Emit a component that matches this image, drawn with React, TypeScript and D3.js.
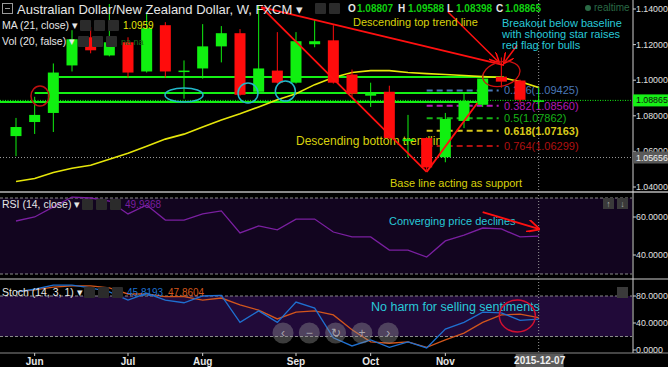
import React from "react";
import * as d3 from "d3";

// weekly AUD/NZD candles
const weeks = ["2015-05-25","2015-06-01","2015-06-08","2015-06-15","2015-06-22","2015-06-29","2015-07-06","2015-07-13","2015-07-20","2015-07-27","2015-08-03","2015-08-10","2015-08-17","2015-08-24","2015-08-31","2015-09-07","2015-09-14","2015-09-21","2015-09-28","2015-10-05","2015-10-12","2015-10-19","2015-10-26","2015-11-02","2015-11-09","2015-11-16","2015-11-23","2015-11-30","2015-12-07"];
const opens = [1.0686,1.0765,1.0816,1.1083,1.1241,1.1139,1.1213,1.1049,1.1309,1.1049,1.1066,1.1190,1.1264,1.0935,1.1054,1.0986,1.1202,1.1224,1.1032,1.0913,1.0935,1.0658,1.0675,1.0567,1.0771,1.0862,1.1020,1.0998,1.08807];
const highs = [1.0788,1.0907,1.1094,1.1281,1.1298,1.1428,1.1241,1.1372,1.1326,1.1111,1.1315,1.1304,1.1287,1.1417,1.1270,1.1270,1.1343,1.1309,1.1060,1.0986,1.0969,1.0805,1.0680,1.0816,1.0924,1.1032,1.1128,1.1003,1.09588];
const lows = [1.0573,1.0698,1.0709,1.1049,1.1151,1.1134,1.1015,1.1043,1.1015,1.0896,1.1009,1.1100,1.0913,1.0930,1.0981,1.0981,1.1185,1.0981,1.0907,1.0850,1.0669,1.0567,1.0494,1.0539,1.0731,1.0850,1.0958,1.0873,1.08398];
const closes = [1.0737,1.0805,1.1043,1.1230,1.1168,1.1213,1.1043,1.1292,1.1049,1.1054,1.1190,1.1264,1.0918,1.1066,1.0986,1.1219,1.1219,1.0986,1.0924,1.0930,1.0675,1.0669,1.0510,1.0782,1.0884,1.1009,1.0992,1.0890,1.08865];

const ma21 = [1.0431,1.0448,1.0482,1.0505,1.0522,1.0556,1.0590,1.0629,1.0669,1.0697,1.0737,1.0777,1.0811,1.0850,1.0890,1.0924,1.0975,1.1015,1.1043,1.1054,1.1054,1.1043,1.1037,1.1032,1.1026,1.1020,1.1015,1.0992,1.0959];
const rsi = [57.9,60.0,65.3,70.5,70.0,68.4,61.6,66.3,58.4,58.4,61.6,63.2,51.6,55.3,53.2,58.9,58.9,52.1,49.5,49.5,42.6,42.6,38.9,47.4,50.5,54.2,53.7,49.5,49.9368];
const stochK = [86,90,96,96,92,86,74,84,74,70,80,81,41,58,41,71,62,18,6,15,4,12,3,31,41,56,55,44,45.8193];
const stochD = [86,89,93,95,95,92,83,83,79,79,74,77,67,59,46,56,58,52,30,12,10,12,4,15,25,41,52,53,47.8604];

const fibRatios = ["0.236", "0.382", "0.5", "0.618", "0.764"];
const fibPrices = [1.09425, 1.0856, 1.07862, 1.07163, 1.06299];
const fibColors = ["#4a78b8", "#b41ab4", "#17b417", "#d8c81a", "#b01010"];

const monthTicks = ["2015-06-01", "2015-07-06", "2015-08-03", "2015-09-07", "2015-10-05", "2015-11-02"];
const rsiTicks = [40, 60];
const stochTicks = [0, 40, 80];

// hand-drawn levels (price, from, to)
const greenLevels = [
  { price: 1.1018, from: "2015-06-10", to: "2015-11-24" },
  { price: 1.0928, from: "2015-06-01", to: "2015-11-14" },
  { price: 1.0878, from: "2015-05-19", to: "2015-11-14" },
];
const redLines = [
  [["2015-08-25", 1.1411], ["2015-11-24", 1.1085]],
  [["2015-08-25", 1.1411], ["2015-10-26", 1.0485]],
  [["2015-10-26", 1.0485], ["2015-11-14", 1.0872]],
];
const redArrows = [
  [["2015-11-03", 1.1383], ["2015-11-22", 1.1102]],
  [["2015-11-29", 1.1198], ["2015-11-24", 1.1097]],
];
const cyanRings = [
  { date: "2015-07-27", price: 1.0917, rx: 19, ry: 7 },
  { date: "2015-08-20", price: 1.0928, rx: 10, ry: 10 },
  { date: "2015-09-03", price: 1.0939, rx: 10, ry: 10 },
];

const FONT = "'Liberation Sans', Arial, sans-serif";
const RIGHT = 632;

export default function App() {
  const parse = d3.utcParse("%Y-%m-%d");
  const dt = (s: string) => parse(s) as Date;
  const dates = weeks.map(dt);
  const x = d3.scaleUtc().domain([dt("2015-05-19"), dt("2016-01-11")]).range([0, RIGHT]);
  const y = d3.scaleLinear().domain([1.04, 1.14]).range([187, 9]);
  const yRsi = d3.scaleLinear().domain([40, 60]).range([255, 217]);
  const ySto = d3.scaleLinear().domain([0, 80]).range([350, 296]);
  const fmtP = d3.format(".5f");
  const fmtI = d3.format(".4f");

  const seriesLine = (sy: (v: number) => number) =>
    d3.line<number>().x((_, i) => x(dates[i])).y((d) => sy(d));

  const bw = 11;
  const cx = x(dt("2015-12-07"));
  const cy = y(1.05656);

  const icons = (x0: number, y0: number) =>
    [0, 14, 28].map((o, i) => (
      <rect key={i} x={x0 + o} y={y0} width={11} height={11} rx={1} fill="#2b2b2b" />
    ));

  return (
    <svg width={668} height={367} style={{ position: "absolute", left: 0, top: 0, background: "#000" }} fontFamily={FONT}>
      <defs>
        <clipPath id="main"><rect x={0} y={0} width={RIGHT} height={192} /></clipPath>
        <marker id="ah" viewBox="0 0 10 10" refX={9} refY={5} markerWidth={7} markerHeight={7} orient="auto">
          <path d="M0,0 L10,5 L0,10" fill="none" stroke="#ff1010" strokeWidth={1.5} />
        </marker>
      </defs>
      <rect width={668} height={367} fill="#000" />

      {/* RSI / Stoch bands */}
      <rect x={0} y={yRsi(70)} width={RIGHT} height={yRsi(30) - yRsi(70)} fill="#12051f" />
      <rect x={0} y={ySto(80)} width={RIGHT} height={ySto(20) - ySto(80)} fill="#210a39" />
      {[yRsi(70), yRsi(30), ySto(80), ySto(20)].map((v, i) => (
        <line key={i} x1={0} x2={RIGHT} y1={v} y2={v} stroke="#8a8a8a" strokeDasharray="3,2" />
      ))}

      {/* pane separators and axis */}
      <line x1={0} x2={668} y1={192} y2={192} stroke="#b8b8b8" strokeWidth={1.5} />
      <line x1={0} x2={668} y1={279} y2={279} stroke="#8a8a8a" strokeWidth={1.5} />
      <line x1={0} x2={668} y1={353} y2={353} stroke="#8a8a8a" strokeWidth={1} />
      <line x1={633} x2={633} y1={0} y2={353} stroke="#cfcfcf" />

      {/* crosshair */}
      <line x1={cx} x2={cx} y1={0} y2={353} stroke="#9a9a9a" strokeDasharray="1,2" />
      <line x1={0} x2={RIGHT} y1={cy} y2={cy} stroke="#9a9a9a" strokeDasharray="1,2" />

      <g clipPath="url(#main)">
        {/* fib retracement */}
        {fibPrices.map((p, i) => (
          <g key={i}>
            <line x1={x(dt("2015-10-26"))} x2={x(dt("2015-11-22"))} y1={y(p)} y2={y(p)}
              stroke={fibColors[i]} strokeWidth={2} strokeDasharray="6,4" />
            <text x={x(dt("2015-11-24"))} y={y(p) + 4} fontSize={11} fill={fibColors[i]}
              fontWeight={i === 3 ? "bold" : "normal"}>{`${fibRatios[i]}(${fmtP(p)})`}</text>
          </g>
        ))}

        {/* green support lines */}
        {greenLevels.map((l, i) => (
          <line key={i} x1={x(dt(l.from))} x2={x(dt(l.to))} y1={y(l.price)} y2={y(l.price)}
            stroke="#14f014" strokeWidth={2} />
        ))}
        <line x1={0} x2={RIGHT} y1={y(closes[28])} y2={y(closes[28])} stroke="#14f014" strokeDasharray="1,1.5" />

        {/* MA 21 */}
        <path d={seriesLine(y)(ma21) || ""} fill="none" stroke="#e6e60a" strokeWidth={1.6} />

        <text x={296} y={145} fontSize={12} fill="#d8d00c">Descending bottom trendline</text>

        {/* candles */}
        {dates.map((d, i) => {
          const up = closes[i] >= opens[i];
          const col = up ? "#10f010" : "#ff0c0c";
          const top = y(Math.max(opens[i], closes[i]));
          const h = Math.max(1.5, Math.abs(y(opens[i]) - y(closes[i])));
          return (
            <g key={i}>
              <line x1={x(d)} x2={x(d)} y1={y(highs[i])} y2={y(lows[i])} stroke={col} strokeWidth={1} />
              <rect x={x(d) - bw / 2} y={top} width={bw} height={h} fill={col} />
            </g>
          );
        })}

        {/* drawings */}
        {cyanRings.map((c, i) => (
          <ellipse key={i} cx={x(dt(c.date))} cy={y(c.price)} rx={c.rx} ry={c.ry} fill="none" stroke="#22b8c8" strokeWidth={1.5} />
        ))}
        <ellipse cx={x(dt("2015-06-03"))} cy={y(1.0911)} rx={9} ry={10} fill="none" stroke="#c01010" strokeWidth={1.5} />
        {redLines.map((l, i) => (
          <line key={i} x1={x(dt(l[0][0] as string))} y1={y(l[0][1] as number)} x2={x(dt(l[1][0] as string))} y2={y(l[1][1] as number)}
            stroke="#ff1010" strokeWidth={1.8} />
        ))}
        {redArrows.map((l, i) => (
          <line key={i} x1={x(dt(l[0][0] as string))} y1={y(l[0][1] as number)} x2={x(dt(l[1][0] as string))} y2={y(l[1][1] as number)}
            stroke="#ff1010" strokeWidth={1.5} markerEnd="url(#ah)" />
        ))}
        <ellipse cx={x(dt("2015-11-23"))} cy={y(1.1035)} rx={19} ry={12} fill="none" stroke="#d01010" strokeWidth={1.3}
          transform={`rotate(-15 ${x(dt("2015-11-23"))} ${y(1.1035)})`} />
      </g>

      {/* annotations */}
      <text x={353} y={26} fontSize={11} fill="#d8d00c">Descending top trend line</text>
      <text fontSize={11} fill="#28c8d8">
        <tspan x={502} y={27}>Breakout below baseline</tspan>
        <tspan x={502} y={38}>with shooting star raises</tspan>
        <tspan x={502} y={49}>red flag for bulls</tspan>
      </text>
      <text x={390} y={187} fontSize={11} fill="#d8d00c">Base line acting as support</text>

      {/* header texts */}
      <rect x={2.5} y={3.5} width={10} height={10} fill="none" stroke="#9a9a9a" />
      <line x1={5} x2={10} y1={8.5} y2={8.5} stroke="#9a9a9a" />
      <text x={17} y={14} fontSize={13} fill="#e6e6e6">Australian Dollar/New Zealand Dollar, W, FXCM ▾</text>
      <rect x={315} y={3} width={11} height={11} rx={1} fill="#2b2b2b" />
      <rect x={329} y={3} width={11} height={11} rx={1} fill="#2b2b2b" />
      <g fontSize={10} fontWeight="bold">
        <text x={348} y={12} fill="#e6e6e6">O</text>
        <text x={357} y={12} fill="#10d010">{fmtP(opens[28])}</text>
        <text x={398} y={12} fill="#e6e6e6">H</text>
        <text x={408} y={12} fill="#10d010">{fmtP(highs[28])}</text>
        <text x={447} y={12} fill="#e6e6e6">L</text>
        <text x={456} y={12} fill="#10d010">{fmtP(lows[28])}</text>
        <text x={496} y={12} fill="#e6e6e6">C</text>
        <text x={505} y={12} fill="#10d010">{fmtP(closes[28])}</text>
      </g>
      <circle cx={588} cy={8} r={3} fill="#2a6a45" />
      <text x={594} y={11} fontSize={10} fill="#2a6a45">realtime</text>

      <text x={2} y={29} fontSize={10.5} fill="#e6e6e6">MA (21, close) ▾</text>
      {icons(80, 20)}
      <text x={123} y={29} fontSize={10} fill="#e6e60a">{ma21[28].toFixed(4)}</text>
      <text x={2} y={45} fontSize={10.5} fill="#e6e6e6">Vol (20, false) ▾</text>
      {icons(78, 36)}
      <text x={121} y={45} fontSize={9} fill="#1c6a1c">na na</text>

      {/* price axis */}
      {y.ticks(5).map((t) => (
        <g key={t}>
          <line x1={633} x2={636} y1={y(t)} y2={y(t)} stroke="#cfcfcf" />
          <text x={636} y={y(t) + 3} fontSize={8.8} fill="#e0e0e0">{fmtP(t)}</text>
        </g>
      ))}
      <rect x={633} y={y(closes[28]) - 6} width={35} height={12} fill="#16f016" />
      <text x={636} y={y(closes[28]) + 3} fontSize={8.8} fill="#111">{fmtP(closes[28])}</text>
      <rect x={633} y={cy - 6} width={35} height={12} fill="#5a5a5a" />
      <text x={636} y={cy + 3} fontSize={8.8} fill="#f0f0f0">{fmtP(1.05656)}</text>

      {/* RSI pane */}
      <path d={seriesLine(yRsi)(rsi) || ""} fill="none" stroke="#7a1fa0" strokeWidth={1.3} />
      <text x={2} y={208} fontSize={10.5} fill="#e6e6e6">RSI (14, close) ▾</text>
      {icons(82, 199)}
      <text x={125} y={208} fontSize={10} fill="#7a1fa0">{rsi[28].toFixed(4)}</text>
      <text x={389} y={225} fontSize={11} fill="#28c8d8">Converging price declines</text>
      <line x1={x(dt("2015-11-16"))} y1={yRsi(62.6)} x2={x(dt("2015-12-07"))} y2={yRsi(53.7)}
        stroke="#ff1010" strokeWidth={1.8} markerEnd="url(#ah)" />
      <rect x={603} y={198} width={11} height={11} fill="#3a3a3a" />
      <rect x={617} y={198} width={11} height={11} fill="#3a3a3a" />
      <text x={608.5} y={207} fontSize={9} fill="#aaa" textAnchor="middle">↑</text>
      <text x={622.5} y={207} fontSize={9} fill="#aaa" textAnchor="middle">↓</text>
      {rsiTicks.map((t) => (
        <g key={t}>
          <line x1={633} x2={636} y1={yRsi(t)} y2={yRsi(t)} stroke="#cfcfcf" />
          <text x={636} y={yRsi(t) + 3} fontSize={8.8} fill="#e0e0e0">{fmtI(t)}</text>
        </g>
      ))}

      {/* Stoch pane */}
      <path d={seriesLine(ySto)(stochD) || ""} fill="none" stroke="#d2561c" strokeWidth={1.3} />
      <path d={seriesLine(ySto)(stochK) || ""} fill="none" stroke="#1f70d0" strokeWidth={1.3} />
      <text x={2} y={296} fontSize={10.5} fill="#e6e6e6">Stoch (14, 3, 1) ▾</text>
      {icons(84, 287)}
      <text x={127} y={296} fontSize={10} fill="#1f70d0">{stochK[28].toFixed(4)}</text>
      <text x={168} y={296} fontSize={10} fill="#d2561c">{stochD[28].toFixed(4)}</text>
      <text x={371} y={311} fontSize={12.5} fill="#28c8d8">No harm for selling sentiments</text>
      <ellipse cx={x(dt("2015-11-29"))} cy={ySto(50.4)} rx={18} ry={16} fill="none" stroke="#d01030" strokeWidth={1.5} />
      <rect x={617} y={287} width={11} height={11} fill="#3a3a3a" />
      {stochTicks.map((t) => (
        <g key={t}>
          <line x1={633} x2={636} y1={ySto(t)} y2={ySto(t)} stroke="#cfcfcf" />
          <text x={636} y={ySto(t) + 3} fontSize={8.8} fill="#e0e0e0">{fmtI(t)}</text>
        </g>
      ))}
      {["‹", "−", "↻", "+", "›"].map((g, i) => (
        <g key={i}>
          <circle cx={283 + i * 26.3} cy={333} r={10.5} fill="rgba(150,150,150,0.4)" />
          <text x={283 + i * 26.3} y={337} fontSize={12} textAnchor="middle" fill="rgba(210,210,210,0.7)">{g}</text>
        </g>
      ))}

      {/* time axis */}
      {monthTicks.map((m) => (
        <g key={m}>
          <line x1={x(dt(m))} x2={x(dt(m))} y1={353} y2={356} stroke="#cfcfcf" />
          <text x={x(dt(m))} y={365} fontSize={10} fontWeight="bold" fill="#e6e6e6" textAnchor="middle">
            {d3.utcFormat("%b")(dt(m))}
          </text>
        </g>
      ))}
      <rect x={cx - 23} y={354} width={48} height={13} fill="#5a5a5a" />
      <text x={cx + 1} y={364} fontSize={10} fontWeight="bold" fill="#f0f0f0" textAnchor="middle">2015-12-07</text>
    </svg>
  );
}
